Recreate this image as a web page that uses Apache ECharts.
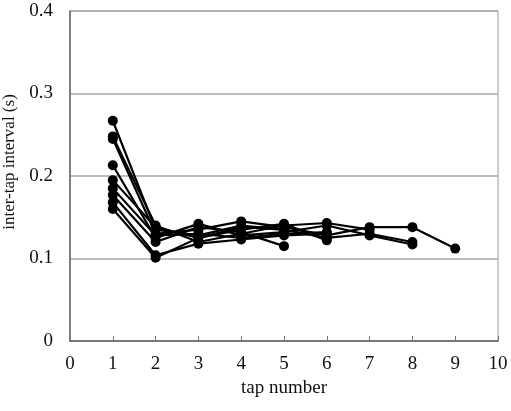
<!DOCTYPE html>
<html>
<head>
<meta charset="utf-8">
<script src="https://cdn.jsdelivr.net/npm/echarts@6/dist/echarts.min.js"></script>
<style>html,body{margin:0;padding:0;background:#fff}#c{width:511px;height:411px}</style>
</head>
<body>
<div id="c"></div>
<script>
const xTicks = [0,1,2,3,4,5,6,7,8,9,10];
const yTicks = [0,0.1,0.2,0.3,0.4];
const s1 = [0.267, 0.135, 0.128, 0.140, 0.135, 0.125, 0.130, 0.120];
const s2 = [0.248, 0.140, 0.120, 0.130, 0.140, 0.143, 0.135];
const s3 = [0.245, 0.130, 0.135, 0.145, 0.138, 0.128, 0.138, 0.138, 0.112];
const s4 = [0.213, 0.125, 0.142, 0.128, 0.132, 0.140, 0.128, 0.117];
const s5 = [0.195, 0.138, 0.125, 0.135, 0.142, 0.122];
const s6 = [0.185, 0.128, 0.130, 0.125, 0.130, 0.132];
const s7 = [0.177, 0.120, 0.138, 0.132, 0.115];
const s8 = [0.168, 0.104, 0.118, 0.123, 0.128, 0.130];
const s9 = [0.160, 0.101, 0.125, 0.138, 0.135];
const allSeries = [s1,s2,s3,s4,s5,s6,s7,s8,s9];

const font = 'Liberation Serif';
const chart = echarts.init(document.getElementById('c'), null, {renderer:'canvas'});
chart.setOption({
  animation: false,
  backgroundColor: '#fff',
  grid: {left: 70, right: 13, top: 11, bottom: 70, show: true, borderColor: '#9a9a9a', borderWidth: 1,
         backgroundColor: 'transparent', containLabel: false, outerBoundsMode: 'none'},
  xAxis: {
    type: 'value', min: 0, max: 10, interval: 1,
    name: 'tap number', nameLocation: 'middle', nameGap: 38,
    nameTextStyle: {fontFamily: font, fontSize: 19, color: '#111'},
    axisLine: {lineStyle: {color: '#666', width: 1.5}},
    axisTick: {inside: true, length: 5, lineStyle: {color: '#777'}},
    axisLabel: {fontFamily: font, fontSize: 19, color: '#111', margin: 14},
    splitLine: {show: false}
  },
  yAxis: {
    type: 'value', min: 0, max: 0.4, interval: 0.1,
    name: 'inter-tap interval (s)', nameLocation: 'middle', nameGap: 44,
    nameTextStyle: {fontFamily: font, fontSize: 17, color: '#111', padding: [0,0,0,28]},
    axisLine: {show: true, lineStyle: {color: '#666', width: 1.5}},
    axisTick: {show: false},
    axisLabel: {fontFamily: font, fontSize: 19, color: '#111', margin: 17,
      formatter: v => yTicks.includes(Math.round(v*10)/10) ? String(Math.round(v*10)/10) : ''},
    splitLine: {show: true, lineStyle: {color: '#a8a8a8', width: 1.5}}
  },
  series: allSeries.map(s => ({
    type: 'line',
    data: s.map((v,i) => [i+1, v]),
    symbol: 'circle', symbolSize: 10,
    itemStyle: {color: '#000'},
    lineStyle: {color: '#000', width: 2.2},
    silent: true
  }))
});
</script>
</body>
</html>
